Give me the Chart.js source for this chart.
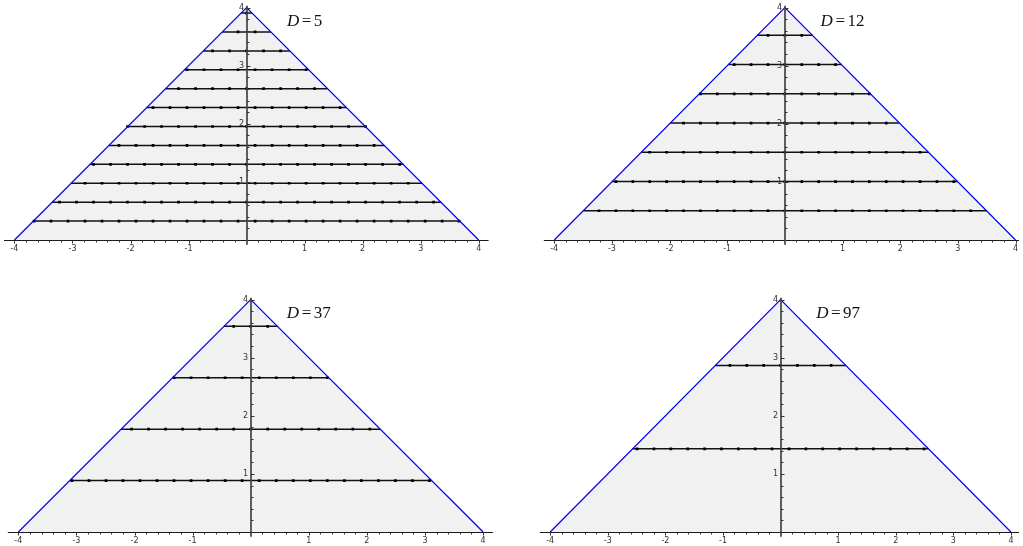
<!DOCTYPE html>
<html><head><meta charset="utf-8">
<script src="https://cdn.jsdelivr.net/npm/chart.js@4.4.0/dist/chart.umd.min.js"></script>
<style>
html,body{margin:0;padding:0;background:#fff;}
#wrap{position:relative;width:1023px;height:546px;overflow:hidden;background:#fff;}
canvas{position:absolute;left:0;top:0;}
</style></head><body>
<div id="wrap">
<canvas id="p5" width="1023" height="546"></canvas>
<canvas id="p12" width="1023" height="546"></canvas>
<canvas id="p37" width="1023" height="546"></canvas>
<canvas id="p97" width="1023" height="546"></canvas>
</div>
<script>
// ---------------- DATA ----------------
const discriminants = [5, 12, 37, 97];
// triangle (region) vertices
const triangleX = [-4, 0, 4];
const triangleY = [0, 4, 0];
// heights of the horizontal rows in each panel
const rowsD5  = [0.326, 0.651, 0.977, 1.302, 1.628, 1.953, 2.279, 2.604, 2.930, 3.255, 3.581, 3.906];
const rowsD12 = [0.503, 1.006, 1.510, 2.013, 2.516, 3.019, 3.522];
const rowsD37 = [0.885, 1.770, 2.655, 3.540];
const rowsD97 = [1.431, 2.867];
// 1 = dots on that row are shifted by half a step, 0 = a dot sits on x = 0
const shiftD5  = [1, 0, 1, 0, 1, 0, 1, 0, 1, 0, 1, 0];
const shiftD12 = [0, 0, 0, 0, 0, 0, 0];
const shiftD37 = [1, 0, 1, 0];
const shiftD97 = [1, 0];
// dot x-positions (positive side; mirrored to the negative side)
const dotsAligned = [0, 0.293, 0.586, 0.879, 1.172, 1.465, 1.758, 2.051, 2.344, 2.637, 2.930, 3.223, 3.516, 3.809];
const dotsHalf    = [0.147, 0.440, 0.733, 1.026, 1.319, 1.612, 1.905, 2.198, 2.491, 2.784, 3.077, 3.370, 3.663, 3.956];
// tick labels
const xTickValues = [-4, -3, -2, -1, 1, 2, 3, 4];
const xTickLabels = ['-4', '-3', '-2', '-1', '1', '2', '3', '4'];
const yTickValues = [1, 2, 3, 4];
const yTickLabels = ['1', '2', '3', '4'];

// ---------------- LAYOUT ----------------
const W = 1023, H = 546, SX = 58.1, SY = 58.1;
const panels = [
  {id:'p5',  D:discriminants[0], rows:rowsD5,  shift:shiftD5,  ox:246.3, oy:240, xmin:-4.18, xmax:4.17, ymin:-0.08, ymax:4.03},
  {id:'p12', D:discriminants[1], rows:rowsD12, shift:shiftD12, ox:786.7, oy:240, xmin:-4.18, xmax:4.06, ymin:-0.08, ymax:4.03},
  {id:'p37', D:discriminants[2], rows:rowsD37, shift:shiftD37, ox:250.7, oy:532, xmin:-4.18, xmax:4.17, ymin:-0.08, ymax:4.03},
  {id:'p97', D:discriminants[3], rows:rowsD97, shift:shiftD97, ox:782.7, oy:532, xmin:-4.18, xmax:4.14, ymin:-0.08, ymax:4.03}
];

const isInt = v => Math.abs(v - Math.round(v)) < 1e-6;
const minorX = []; for (let k = -20; k <= 20; k++) minorX.push(k / 5);
const minorY = []; for (let k = 1; k <= 20; k++) minorY.push(k / 5);

// axes through the origin, drawn from the chart's own scales
const axesPlugin = {
  id: 'originAxes',
  afterDatasetsDraw(chart) {
    const {ctx} = chart; const x = chart.scales.x, y = chart.scales.y;
    const x0 = x.getPixelForValue(0), y0 = Math.round(y.getPixelForValue(0)) + 0.5;
    ctx.save();
    // x axis line
    ctx.strokeStyle = '#1a1a1a'; ctx.lineWidth = 1.2;
    ctx.beginPath(); ctx.moveTo(x.left, y0); ctx.lineTo(x.right, y0); ctx.stroke();
    // y axis line
    const xa = Math.round(x0);
    ctx.strokeStyle = '#444'; ctx.lineWidth = 1.7;
    ctx.beginPath(); ctx.moveTo(xa, y.top); ctx.lineTo(xa, y.bottom); ctx.stroke();
    // tick marks
    ctx.strokeStyle = '#333'; ctx.lineWidth = 1;
    minorX.forEach(v => {
      if (v === 0) return;
      const px = Math.round(x.getPixelForValue(v)) + 0.5;
      ctx.beginPath(); ctx.moveTo(px, y0); ctx.lineTo(px, y0 + (isInt(v) ? 3 : 2)); ctx.stroke();
    });
    minorY.forEach(v => {
      const py = Math.round(y.getPixelForValue(v)) + 0.5;
      ctx.beginPath(); ctx.moveTo(xa, py); ctx.lineTo(xa + (isInt(v) ? 3.5 : 2.5), py); ctx.stroke();
    });
    // tick labels
    ctx.fillStyle = '#333'; ctx.font = '8px "DejaVu Sans"';
    ctx.textAlign = 'center'; ctx.textBaseline = 'middle';
    xTickValues.forEach((v, i) => ctx.fillText(xTickLabels[i], x.getPixelForValue(v), y0 + 8));
    ctx.textAlign = 'right';
    yTickValues.forEach((v, i) => ctx.fillText(yTickLabels[i], xa - 3, y.getPixelForValue(v)));
    ctx.restore();
  }
};

const titlePlugin = {
  id: 'titleD',
  afterDraw(chart, args, opts) {
    const {ctx} = chart; const x = chart.scales.x, y = chart.scales.y;
    const cx = x.getPixelForValue(1.0), cy = y.getPixelForValue(3.76);
    ctx.save();
    ctx.fillStyle = '#111'; ctx.textBaseline = 'middle';
    const fi = 'italic 17px "Liberation Serif"', fr = '17px "Liberation Serif"';
    ctx.font = fi; const wD = ctx.measureText('D').width;
    ctx.font = fr; const wE = ctx.measureText('=').width; const wN = ctx.measureText(String(opts.D)).width;
    const gap = 2.5;
    const total = wD + gap + wE + gap + wN;
    let px = cx - total / 2;
    ctx.font = fi; ctx.textAlign = 'left'; ctx.fillText('D', px, cy); px += wD + gap;
    ctx.font = fr; ctx.fillText('=', px, cy); px += wE + gap;
    ctx.fillText(String(opts.D), px, cy);
    ctx.restore();
  }
};

function buildPanel(p) {
  const pad = {
    left: p.ox + p.xmin * SX,
    right: W - (p.ox + p.xmax * SX),
    top: p.oy - p.ymax * SY,
    bottom: H - (p.oy - p.ymin * SY)
  };
  const tri = triangleX.map((v, i) => ({x: v, y: triangleY[i]}));
  const datasets = [];
  datasets.push({data: tri, borderColor: '#0000ff', borderWidth: 1.2, pointRadius: 0, fill: false, order: 0});
  const dots = [];
  p.rows.forEach((yv, i) => {
    const hw = 4 - yv; // half width of the triangle at this height
    const base = p.shift[i] ? dotsHalf : dotsAligned;
    base.forEach(v => {
      if (v <= hw + 0.01) { dots.push({x: v, y: yv}); if (v > 0) dots.push({x: -v, y: yv}); }
    });
  });
  datasets.push({data: dots, showLine: false, pointStyle: 'rect', pointRadius: 1.9, pointBackgroundColor: '#000', pointBorderWidth: 0, order: 1});
  p.rows.forEach(yv => {
    datasets.push({data: [{x: -(4 - yv), y: yv}, {x: 4 - yv, y: yv}], borderColor: '#111', borderWidth: 1.5, pointRadius: 0, fill: false, order: 2});
  });
  datasets.push({data: tri, borderColor: 'rgba(0,0,0,0)', borderWidth: 0, backgroundColor: '#f1f1f1', fill: 'origin', pointRadius: 0, order: 3});

  new Chart(document.getElementById(p.id), {
    type: 'line',
    data: {datasets},
    options: {
      responsive: false, animation: false, events: [],
      layout: {padding: pad},
      plugins: {legend: {display: false}, tooltip: {enabled: false}, titleD: {D: p.D}},
      scales: {
        x: {type: 'linear', min: p.xmin, max: p.xmax, display: false},
        y: {type: 'linear', min: p.ymin, max: p.ymax, display: false}
      }
    },
    plugins: [axesPlugin, titlePlugin]
  });
}
panels.forEach(buildPanel);
</script>
</body></html>
